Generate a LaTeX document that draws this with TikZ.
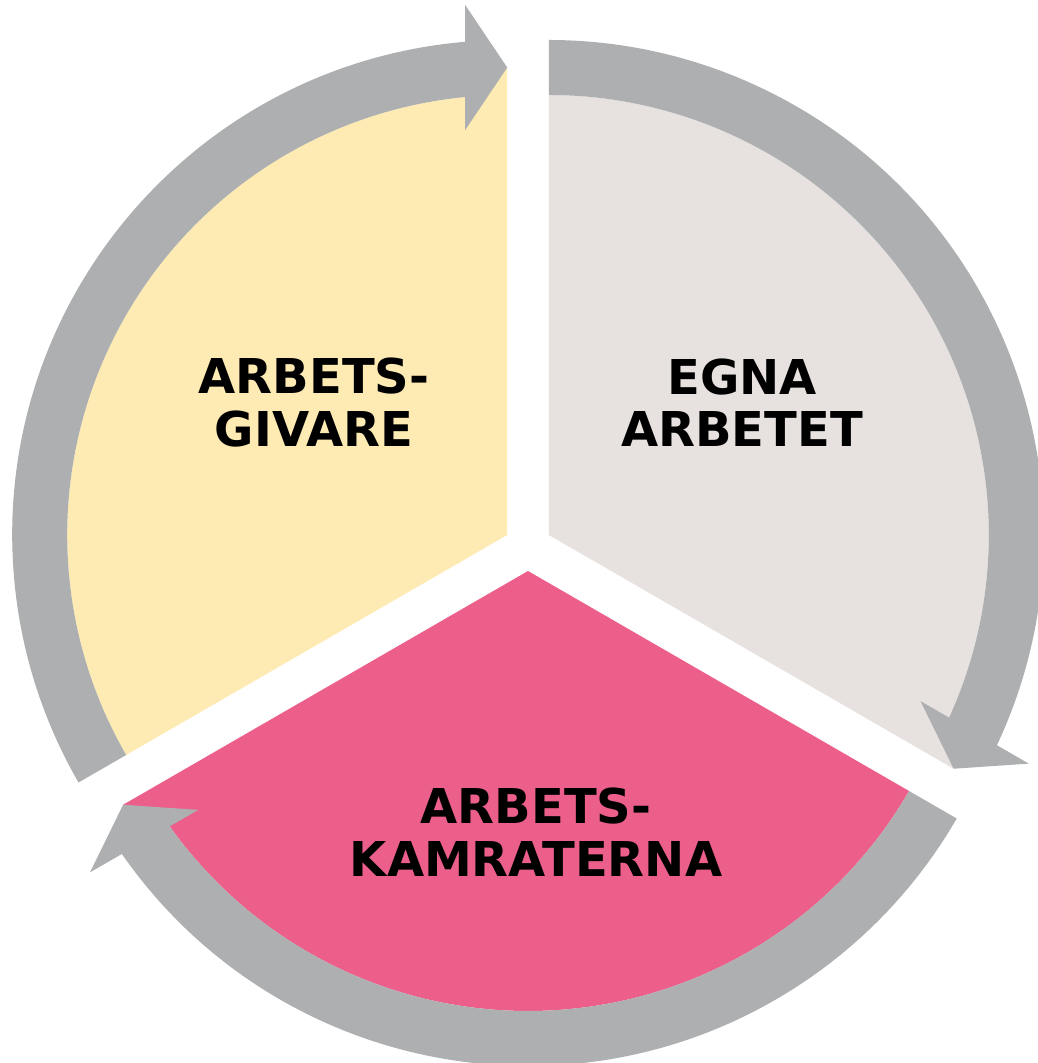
\documentclass[tikz,border=0pt]{standalone}
\usepackage{fontspec}
\setmainfont{DejaVu Sans}
\usetikzlibrary{calc}
\definecolor{arrowgray}{RGB}{173,175,176}
\definecolor{sectyellow}{RGB}{254,235,180}
\definecolor{sectgray}{RGB}{231,225,223}
\definecolor{sectpink}{RGB}{236,95,139}
% #1 vertex, #2 start angle, #3 end angle (clockwise)
\newcommand{\CycArrow}[3]{%
  \pgfmathsetmacro{\CycIn}{#3+asin(42/440)}%
  \pgfmathsetmacro{\CycOut}{#3+asin(42/495)}%
  \pgfmathsetmacro{\CycPerp}{#3+90}%
  \fill[arrowgray] ($(#1)+(#2:440pt)$) arc[start angle=#2, end angle=\CycIn, radius=440pt]
    -- ($(#1)+(#3:405pt)+(\CycPerp:42pt)$)
    -- ($(#1)+(#3:467.5pt)$)
    -- ($(#1)+(#3:530pt)+(\CycPerp:42pt)$)
    -- ($(#1)+(\CycOut:495pt)$) arc[start angle=\CycOut, end angle=#2, radius=495pt] -- cycle;}
\newcommand{\CycSector}[4]{%
  \pgfmathsetmacro{\CycIn}{#3+asin(42/440)}%
  \fill[#4] (#1) -- ($(#1)+(#2:440pt)$) arc[start angle=#2, end angle=\CycIn, radius=440pt]
    -- ($(#1)+(#3:467.5pt)$) -- cycle;}
\begin{document}
\begin{tikzpicture}[x=1pt,y=1pt,
  sectlabel/.style={font=\fontsize{48}{52.5}\selectfont\bfseries, align=center, inner sep=0pt, text=black}]
\useasboundingbox (0,0) rectangle (1037,1063);
\coordinate (vy) at (507.2,528);
\coordinate (vg) at (548.8,528);
\coordinate (vp) at (528,492);
% sectors
\CycSector{vy}{210}{90}{sectyellow}
\CycSector{vg}{90}{-30}{sectgray}
\CycSector{vp}{-30}{-150}{sectpink}
% arrows
\CycArrow{vy}{210}{90}
\CycArrow{vg}{90}{-30}
\CycArrow{vp}{-30}{-150}
% labels
\node[sectlabel] (lgiv) at (314,660.5) {ARBETS-\\GIVARE};
\node[sectlabel] (legn) at (742,660.5) {EGNA\\ARBETET};
\node[sectlabel] (lkam) at (536,231) {ARBETS-\\KAMRATERNA};
\end{tikzpicture}
\end{document}
